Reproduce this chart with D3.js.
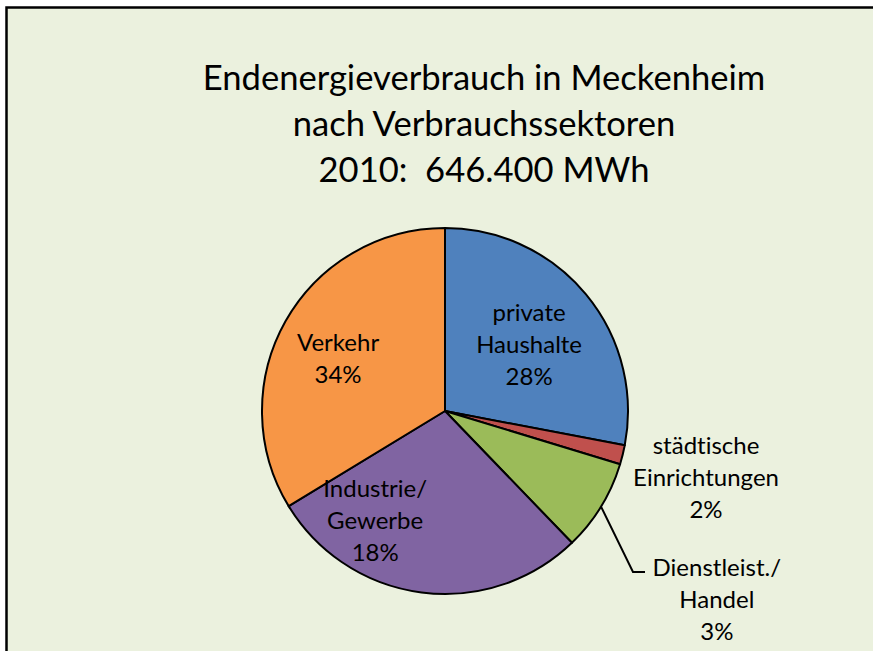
<!DOCTYPE html>
<html>
<head>
<meta charset="utf-8">
<script src="https://cdn.jsdelivr.net/npm/d3@7"></script>
<style>
  html, body { margin: 0; padding: 0; background: #ffffff; }
  svg { display: block; }
  text { font-family: Lato, "Open Sans", sans-serif; fill: #000; white-space: pre; font-variant-ligatures: none; font-feature-settings: "liga" 0, "clig" 0; }
</style>
</head>
<body>
<svg id="chart" width="873" height="651"></svg>
<script>
// ---- data ----
const titleLines = ["Endenergieverbrauch in Meckenheim", "nach Verbrauchssektoren", "2010:  646.400 MWh"];
const categories = ["private Haushalte", "städtische Einrichtungen", "Dienstleist./ Handel", "Industrie/ Gewerbe", "Verkehr"];
const labelLines = [["private", "Haushalte"], ["städtische", "Einrichtungen"], ["Dienstleist./", "Handel"], ["Industrie/", "Gewerbe"], ["Verkehr"]];
// slice sizes as drawn in the picture (percent of the circle)
const sliceValues = [28.0, 1.7, 8.1, 28.5, 33.7];
// percentages printed in the labels
const labelPercents = ["28%", "2%", "3%", "18%", "34%"];
const colors = ["#4F81BD", "#C0504D", "#9BBB59", "#8064A2", "#F79646"];

// ---- layout ----
const W = 873, H = 651;
const cx = 445, cy = 411, R = 183;
// label anchor: [angle in degrees clockwise from top, distance from centre]
const labelAnchors = [[51.8, 107], [104.4, 269.5], [124.8, 331], [212.5, 130], [296, 119]];
const lineH = 32;

const svg = d3.select("#chart");

svg.append("rect").attr("x", 0).attr("y", 0).attr("width", W).attr("height", H).attr("fill", "#ffffff");
svg.append("rect").attr("x", 7).attr("y", 8).attr("width", W - 7).attr("height", H - 8).attr("fill", "#EBF1DE");
svg.append("path").attr("d", `M6.5,${H} L6.5,7.5 L${W},7.5`).attr("fill", "none").attr("stroke", "#000").attr("stroke-width", 2.5);

// title
const title = svg.append("text").attr("x", 484).attr("text-anchor", "middle").style("font-size", "34.6px");
titleLines.forEach((t, i) => {
  title.append("tspan").attr("x", 484).attr("y", 90 + i * 46).text(t);
});

// pie
const pie = d3.pie().sort(null).value(d => d);
const arcs = pie(sliceValues);
const arc = d3.arc().innerRadius(0).outerRadius(R);
const g = svg.append("g").attr("transform", `translate(${cx},${cy})`);
g.selectAll("path.slice").data(arcs).join("path")
  .attr("class", "slice")
  .attr("d", arc)
  .attr("fill", (d, i) => colors[i])
  .attr("stroke", "#000")
  .attr("stroke-width", 2)
  .attr("stroke-linejoin", "round");

// leader line for Dienstleist./Handel
const dArc = arcs[2];
const leadA = dArc.startAngle + (dArc.endAngle - dArc.startAngle) * 0.5;
const p0 = [Math.sin(leadA) * R, -Math.cos(leadA) * R];
g.append("path")
  .attr("d", `M${p0[0]},${p0[1]} L${633 - cx},${572 - cy} L${645 - cx},${572 - cy}`)
  .attr("fill", "none").attr("stroke", "#000").attr("stroke-width", 2);

// labels
arcs.forEach((d, i) => {
  const [ang, dist] = labelAnchors[i];
  const a = ang * Math.PI / 180;
  const x = Math.sin(a) * dist, y = -Math.cos(a) * dist;
  const lines = labelLines[i].concat([labelPercents[i]]);
  const t = g.append("text").attr("text-anchor", "middle").style("font-size", "24px");
  const n = lines.length;
  lines.forEach((ln, k) => {
    t.append("tspan").attr("x", x).attr("y", y + (k - (n - 1) / 2) * lineH).attr("dy", "0.35em").text(ln);
  });
});
</script>
</body>
</html>
